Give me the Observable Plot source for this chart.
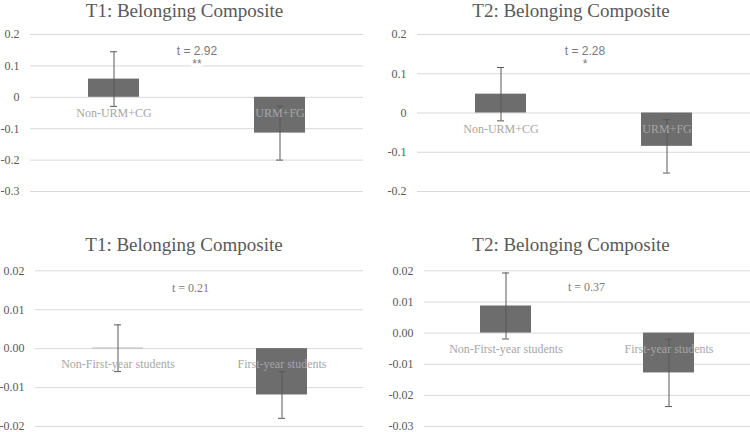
<!DOCTYPE html>
<html><head><meta charset="utf-8">
<script src="https://cdn.jsdelivr.net/npm/d3@7"></script>
<script src="https://cdn.jsdelivr.net/npm/@observablehq/plot@0.6"></script>
<style>
body{margin:0;background:#fff;}
#root{position:relative;width:750px;height:432px;overflow:hidden;background:#fff;}
.title{position:absolute;font-family:"Liberation Serif",serif;font-size:19px;color:#595959;white-space:nowrap;transform:translate(-50%,-50%);line-height:1;}
.panel{position:absolute;}
</style></head><body><div id="root"></div>
<script>
// ---- data ----
const titles = ["T1: Belonging Composite", "T2: Belonging Composite", "T1: Belonging Composite", "T2: Belonging Composite"];
const groupsRace = ["Non-URM+CG", "URM+FG"];
const groupsYear = ["Non-First-year students", "First-year students"];
const t1RaceMean = [0.058, -0.114];
const t1RaceErr = [0.087, 0.086];
const t2RaceMean = [0.048, -0.085];
const t2RaceErr = [0.068, 0.068];
const t1YearMean = [0.0001, -0.0119];
const t1YearErr = [0.006, 0.006];
const t2YearMean = [0.0087, -0.0128];
const t2YearErr = [0.0106, 0.0108];
const tStats = ["t = 2.92", "t = 2.28", "t = 0.21", "t = 0.37"];
const sigStars = ["**", "*", "", ""];
const tLabelY = [0.127, 0.141, 0.0157, 0.0148];
const ticksRace1 = [-0.3, -0.2, -0.1, 0, 0.1, 0.2];
const ticksRace2 = [-0.2, -0.1, 0, 0.1, 0.2];
const ticksYear1 = [-0.02, -0.01, 0, 0.01, 0.02];
const ticksYear2 = [-0.03, -0.02, -0.01, 0, 0.01, 0.02];

// ---- layout ----
const layout = [
  {left: 0,   top: 18,  width: 375, height: 198, mL: 30, mR: 12, mT: 16,   mB: 25, titleX: 184.5, titleY: 9.5, tFont: "Liberation Sans", tdx: 0},
  {left: 375, top: 18,  width: 375, height: 198, mL: 42, mR: 0,  mT: 16,   mB: 25, titleX: 571,   titleY: 9.5, tFont: "Liberation Sans", tdx: 1},
  {left: 0,   top: 258, width: 375, height: 174, mL: 35, mR: 12, mT: 12.3, mB: 6,  titleX: 184,   titleY: 244, tFont: "Liberation Serif", tdx: -9},
  {left: 375, top: 258, width: 375, height: 174, mL: 49, mR: 0,  mT: 12.3, mB: 6,  titleX: 571,   titleY: 244, tFont: "Liberation Serif", tdx: -1}
];

const panelsData = [
  {groups: groupsRace, mean: t1RaceMean, err: t1RaceErr, ticks: ticksRace1, fmt: d => Math.abs(d) < 1e-9 ? "0" : d.toFixed(1)},
  {groups: groupsRace, mean: t2RaceMean, err: t2RaceErr, ticks: ticksRace2, fmt: d => Math.abs(d) < 1e-9 ? "0" : d.toFixed(1)},
  {groups: groupsYear, mean: t1YearMean, err: t1YearErr, ticks: ticksYear1, fmt: d => Math.abs(d) < 1e-9 ? "0.00" : d.toFixed(2)},
  {groups: groupsYear, mean: t2YearMean, err: t2YearErr, ticks: ticksYear2, fmt: d => Math.abs(d) < 1e-9 ? "0.00" : d.toFixed(2)}
];

const root = document.getElementById("root");

panelsData.forEach((p, i) => {
  const L = layout[i];
  const rows = p.groups.map((g, j) => ({group: g, mean: p.mean[j], lo: p.mean[j] - p.err[j], hi: p.mean[j] + p.err[j]}));
  const label = sigStars[i] ? tStats[i] + "\n" + sigStars[i] : tStats[i];
  const chart = Plot.plot({
    width: L.width, height: L.height,
    marginLeft: L.mL, marginRight: L.mR, marginTop: L.mT, marginBottom: L.mB,
    style: {fontFamily: "Liberation Serif", fontSize: "12px", color: "#595959", background: "white", overflow: "visible"},
    x: {type: "band", domain: p.groups, paddingInner: 0.69, paddingOuter: 0.345, axis: null},
    y: {domain: [d3.min(p.ticks), d3.max(p.ticks)], axis: null},
    marks: [
      Plot.ruleY(p.ticks, {stroke: "#d9d9d9", strokeWidth: 1}),
      Plot.axisY({ticks: p.ticks, tickFormat: p.fmt, tickSize: 0, tickPadding: 11, fill: "#595959", fontSize: 12}),
      Plot.barY(rows, {x: "group", y: "mean", fill: "#6d6d6d"}),
      Plot.ruleX(rows, {x: "group", y1: "lo", y2: "hi", stroke: "#595959", strokeWidth: 1}),
      Plot.tickY(rows, {x: "group", y: "hi", stroke: "#595959", insetLeft: 22, insetRight: 22}),
      Plot.tickY(rows, {x: "group", y: "lo", stroke: "#595959", insetLeft: 22, insetRight: 22}),
      Plot.text(rows, {x: "group", y: 0, dy: 16, text: "group", fill: "#a6a6a6", fontSize: 12, fontFamily: "Liberation Serif"}),
      Plot.text([label], {y: tLabelY[i], text: d => d, dx: L.tdx, fill: "#7a7a7a", fontSize: 12, fontFamily: L.tFont, lineHeight: 1.05, stroke: "white", strokeWidth: 6})
    ]
  });
  const holder = document.createElement("div");
  holder.className = "panel";
  holder.style.left = L.left + "px";
  holder.style.top = L.top + "px";
  holder.appendChild(chart);
  root.appendChild(holder);

  const t = document.createElement("div");
  t.className = "title";
  t.style.left = L.titleX + "px";
  t.style.top = L.titleY + "px";
  t.textContent = titles[i];
  root.appendChild(t);
});
</script></body></html>
